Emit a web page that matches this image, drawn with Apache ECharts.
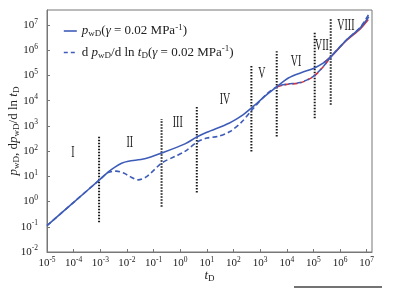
<!DOCTYPE html>
<html>
<head>
<meta charset="utf-8">
<script src="https://cdn.jsdelivr.net/npm/echarts@6/dist/echarts.min.js"></script>
<style>
html, body { margin: 0; padding: 0; background: #fff; }
#main { width: 414px; height: 303px; }
</style>
</head>
<body>
<div id="main"></div>
<script>
// dimensionless time and pressure (solid curve)
var tD = [0.00001, 0.0001, 0.001, 0.002, 0.00355, 0.0063, 0.0112, 0.0468, 0.204, 1.51, 4.17, 10, 71, 234, 468, 1778, 4169, 11482, 36308, 100000, 239883, 446684, 1819701, 5754399, 12022644];
var pwD = [0.112, 0.933, 7.76, 15.1, 23.4, 33.1, 39.8, 50, 85, 195, 363, 562, 1318, 2818, 5129, 17378, 35481, 79433, 131826, 190546, 316228, 549541, 2691535, 7762471, 21379621];

// pressure derivative (dashed curve)
var tDer = [0.00001, 0.0001, 0.001, 0.00195, 0.00398, 0.00794, 0.0129, 0.0263, 0.055, 0.204, 0.631, 1.51, 4.17, 10, 25.1, 74.1, 200, 468, 1585, 4169, 10000, 31623, 100000, 239883, 446684, 1819701, 5754399, 12022644];
var dpwD = [0.112, 0.933, 7.76, 14.1, 16.2, 13.2, 9.8, 7.24, 9.8, 33.9, 61.7, 97.7, 224, 331, 380, 603, 1413, 3981, 16596, 35481, 45709, 52481, 93325, 234423, 549541, 2691535, 8128305, 27542287];

// second (red) case, visible only at late time
var tRed = [251189, 446684, 1819701, 5754399, 11481536];
var pRed = [331131, 549541, 2570396, 7079458, 16595869];
var tRedDer = [4169, 10000, 31623, 100000, 239883, 446684];
var dRed = [35481, 44668, 51286, 91201, 229087, 549541];

// vertical dotted dividers between flow regimes
var divT = [0.0009, 0.2, 4.2, 470, 4200, 112000, 447000];
var divLow = [0.15, 0.63, 2.3, 98, 380, 2000, 6900];
var divHigh = [380, 1900, 6000, 250000, 910000, 5400000, 17800000];

// regime labels
var regNames = ['I', 'II', 'III', 'IV', 'V', 'VI', 'VII', 'VIII'];
var regT = [0.000093, 0.0129, 0.81, 48, 1150, 22400, 209000, 1660000];
var regY = [89, 224, 1320, 11000, 120000, 339000, 1450000, 9800000];

var FONT = '"Liberation Serif", "Times New Roman", serif';
var BLUE = '#3d5cb8';
var RED = '#d2323c';

function pairs(xs, ys) {
  return xs.map(function (x, i) { return [x, ys[i]]; });
}

function powLabel(v) {
  var e = Math.log10(v);
  var r = Math.round(e);
  if (Math.abs(e - r) > 0.01) return '';
  return '{b|10}{s|' + r + '}';
}

var tickRich = {
  b: { fontSize: 11, fontFamily: FONT, color: '#222' },
  s: { fontSize: 7.5, fontFamily: FONT, color: '#222', padding: [0, 0, 7, 0] }
};

function textRich(size) {
  return {
    i: { fontSize: size, fontFamily: FONT, fontStyle: 'italic', color: '#222' },
    n: { fontSize: size, fontFamily: FONT, color: '#222' },
    sub: { fontSize: size - 4, fontFamily: FONT, color: '#222', padding: [6, 0, 0, 0] },
    sup: { fontSize: size - 4, fontFamily: FONT, color: '#222', padding: [0, 0, 7, 0] }
  };
}

var legendText = {
  'pwD': '{i|p}{sub|wD}{n|(}{i|γ}{n| = 0.02 MPa}{sup|-1}{n|)}',
  'dpwD': '{n|d }{i|p}{sub|wD}{n|/d ln }{i|t}{sub|D}{n|(}{i|γ}{n| = 0.02 MPa}{sup|-1}{n|)}'
};

var series = [
  {
    name: 'pwD', type: 'line', data: pairs(tD, pwD), smooth: 0.3, symbol: 'none', z: 5,
    lineStyle: { color: BLUE, width: 1.6 }, itemStyle: { color: BLUE }
  },
  {
    name: 'dpwD', type: 'line', data: pairs(tDer, dpwD), smooth: 0.3, symbol: 'none', z: 5,
    lineStyle: { color: BLUE, width: 1.6, type: [5, 3] }, itemStyle: { color: BLUE }
  },
  {
    name: 'pwD2', type: 'line', data: pairs(tRed, pRed), smooth: 0.3, symbol: 'none', z: 4,
    lineStyle: { color: RED, width: 1.6 }
  },
  {
    name: 'dpwD2', type: 'line', data: pairs(tRedDer, dRed), smooth: 0.3, symbol: 'none', z: 4,
    lineStyle: { color: RED, width: 1.6, type: [5, 3] }
  }
];

divT.forEach(function (t, i) {
  series.push({
    name: 'div' + i, type: 'line', symbol: 'none', silent: true, z: 3,
    data: [[t, divLow[i]], [t, divHigh[i]]],
    lineStyle: { color: '#1a1a1a', width: 2, type: [1.5, 1.5] }
  });
});

var chart = echarts.init(document.getElementById('main'));
chart.setOption({
  animation: false,
  backgroundColor: '#fff',
  grid: {
    left: 47, right: 42, top: 10, bottom: 51, outerBoundsMode: 'none',
    show: true, borderColor: '#777', borderWidth: 1
  },
  legend: {
    data: [
      { name: 'pwD', lineStyle: { type: 'solid' } },
      { name: 'dpwD', lineStyle: { type: [4, 3] } }
    ],
    orient: 'vertical', left: 58, top: 18,
    itemWidth: 13, itemHeight: 10, itemGap: 6,
    itemStyle: { opacity: 0 },
    lineStyle: { width: 1.6 },
    formatter: function (name) { return legendText[name]; },
    textStyle: { rich: textRich(13) }
  },
  xAxis: {
    type: 'log', logBase: 10, min: 0.00001, max: Math.pow(10, 7.2), interval: 1,
    name: '{i|t}{sub|D}', nameLocation: 'middle', nameGap: 16, nameMoveOverlap: false,
    nameTextStyle: { rich: textRich(13) },
    axisLine: { lineStyle: { color: '#777' } },
    axisTick: { inside: true, length: 3, lineStyle: { color: '#777' } },
    minorTick: { show: false },
    splitLine: { show: false },
    axisLabel: { formatter: powLabel, rich: tickRich, margin: 4, showMaxLabel: false }
  },
  yAxis: {
    type: 'log', logBase: 10, min: 0.01, max: Math.pow(10, 7.6), interval: 1,
    name: '{i|p}{sub|wD}{n|, d}{i|p}{sub|wD}{n|/d ln }{i|t}{sub|D}',
    nameLocation: 'middle', nameGap: 26, nameRotate: 90, nameMoveOverlap: false,
    nameTextStyle: { rich: textRich(13) },
    axisLine: { lineStyle: { color: '#777' } },
    axisTick: { inside: true, length: 3, lineStyle: { color: '#777' } },
    minorTick: { show: false },
    splitLine: { show: false },
    axisLabel: { formatter: powLabel, rich: tickRich, margin: 9, showMaxLabel: false }
  },
  series: series
});

// regime numerals: placed through the axes, drawn condensed like the original
var graphics = [
  {
    type: 'line', shape: { x1: 294, y1: 287, x2: 382, y2: 287 },
    style: { stroke: '#444', lineWidth: 1.5 }
  }
];
regNames.forEach(function (n, i) {
  var p = chart.convertToPixel({ gridIndex: 0 }, [regT[i], regY[i]]);
  graphics.push({
    type: 'text', x: p[0], y: p[1], scaleX: 0.62, silent: true, z: 10,
    style: {
      text: n, fill: '#222', font: '16px ' + FONT,
      textAlign: 'center', textVerticalAlign: 'middle'
    }
  });
});
chart.setOption({ graphic: graphics });
</script>
</body>
</html>
